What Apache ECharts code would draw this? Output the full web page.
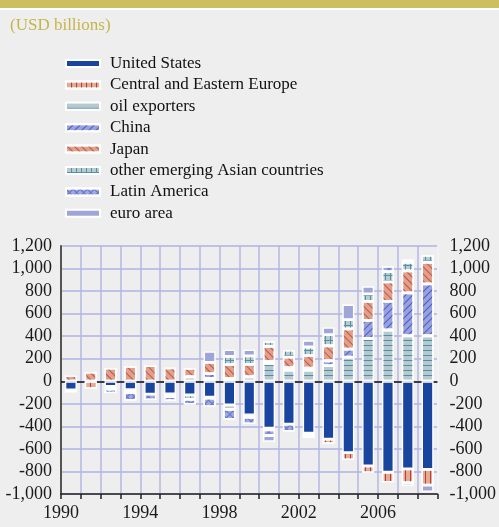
<!DOCTYPE html>
<html>
<head>
<meta charset="utf-8">
<script src="https://cdn.jsdelivr.net/npm/echarts@6/dist/echarts.min.js"></script>
<style>
  html, body { margin: 0; padding: 0; background: #eeeeee; }
  #chart { width: 499px; height: 527px; }
</style>
</head>
<body>
<div id="chart"></div>
<script>
// years on the category axis
const years = ['1990', '1991', '1992', '1993', '1994', '1995', '1996', '1997', '1998', '1999',
               '2000', '2001', '2002', '2003', '2004', '2005', '2006', '2007', '2008']

// current account balances, USD billions ('-' = nothing drawn)
const unitedStates = [-76, '-', -46, -75, -114, -111, -120, -140, -210, -298, -416, -380, -461, -514, -633, -751, -807, -778, -782]
const centralEasternEurope = [-22, -65, '-', '-', '-', '-', '-', -10, '-', -22, -15, '-', -15, -40, -65, -60, -89, -122, -140]
const oilExporters = ['-', '-', -24, -25, '-', '-', 40, 25, -40, 40, 160, 100, 100, 138, 215, 380, 455, 404, 404]
const china = ['-', '-', '-', '-', '-', '-', '-', 42, 25, '-', 16, 20, 17, 44, 71, 160, 254, 380, 460]
const japan = [50, 82, 117, 132, 140, 120, 75, 100, 122, 110, 133, 95, 110, 133, 178, 169, 173, 195, 192]
const otherAsia = ['-', '-', '-', '-', '-', -24, -40, '-', 73, 75, 45, 62, 77, 98, 83, 66, 91, 77, 62]
const latinAmerica = ['-', '-', -35, -70, -51, -38, -45, -75, -89, -58, -50, -65, -25, '-', '-', '-', 47, 24, '-']
const euroArea = ['-', '-', '-', '-', '-', '-', '-', 98, 60, 55, -55, '-', 59, 65, 133, 68, '-', -29, -60]

const yTicks = { min: -1000, max: 1200, step: 200 }

const serif = '"Liberation Serif", "Times New Roman", serif'

// hatch patterns drawn over the fill colours
const lines = (color, rotation) => ({
    symbol: 'rect', symbolSize: 1, dashArrayX: [1, 3.2], dashArrayY: [4, 0], color, rotation: rotation || 0,
})
const hLines = (color) => ({
    symbol: 'rect', symbolSize: 1, dashArrayX: [4, 0], dashArrayY: [1, 3.5], color,
})
const grid = (color, rotation) => ({
    symbol: 'rect', symbolSize: 1,
    dashArrayX: [[5, 0], [1, 4]], dashArrayY: [1, 0, 4, 0], color, rotation: rotation || 0,
})

const seriesDefs = [
    { name: 'United States', data: unitedStates, color: '#1a459f' },
    { name: 'Central and Eastern Europe', data: centralEasternEurope, color: '#e2ac96', decal: lines('rgba(190,40,30,0.85)') },
    { name: 'oil exporters', data: oilExporters, color: '#b6c9d1', decal: hLines('rgba(70,135,155,0.9)') },
    { name: 'China', data: china, color: '#9ba2db', decal: lines('rgba(40,70,200,0.75)', Math.PI / 4) },
    { name: 'Japan', data: japan, color: '#dea18c', decal: lines('rgba(190,45,40,0.7)', -Math.PI / 4) },
    { name: 'other emerging Asian countries', data: otherAsia, color: '#b8cbd3', decal: grid('rgba(70,140,160,0.9)') },
    { name: 'Latin America', data: latinAmerica, color: '#a2a8dd', decal: grid('rgba(50,80,200,0.6)', Math.PI / 4) },
    { name: 'euro area', data: euroArea, color: '#a0a5d8' },
]

const chart = echarts.init(document.getElementById('chart'))

const series = seriesDefs.map((s, i) => ({
    name: s.name,
    type: 'bar',
    stack: 'total',
    barWidth: 12,
    data: s.data,
    itemStyle: {
        color: s.color,
        borderColor: '#ffffff',
        borderWidth: 1.4,
        decal: s.decal || null,
    },
    emphasis: { disabled: true },
    markLine: i === 0 ? {
        silent: true,
        z: 1,
        symbol: 'none',
        label: { show: false },
        lineStyle: { color: '#111', width: 1.6, type: 'solid' },
        data: [{ yAxis: 0 }],
    } : undefined,
}))

const yAxisBase = {
    type: 'value',
    min: yTicks.min,
    max: yTicks.max,
    interval: yTicks.step,
    axisTick: { show: false },
    axisLabel: {
        fontFamily: serif,
        fontSize: 18,
        color: '#1a1a1a',
        formatter: (v) => v.toLocaleString('en-US'),
    },
}

chart.setOption({
    backgroundColor: '#eeeeee',
    animation: false,
    graphic: [
        { type: 'rect', left: 0, top: 0, shape: { width: 499, height: 8 }, style: { fill: '#cdbf60' } },
        { type: 'rect', left: 0, top: 8, shape: { width: 499, height: 2 }, style: { fill: '#ffffff' } },
    ],
    title: {
        text: '(USD billions)',
        left: 5,
        top: 12,
        textStyle: { fontFamily: serif, fontSize: 17, fontWeight: 'normal', color: '#c6b54a' },
    },
    legend: {
        orient: 'vertical',
        left: 60,
        top: 48,
        icon: 'rect',
        itemWidth: 34,
        itemHeight: 7,
        itemGap: 0.4,
        selectedMode: false,
        textStyle: {
            fontFamily: serif,
            fontSize: 17,
            lineHeight: 21,
            color: '#111',
            padding: [0, 0, 0, 5],
        },
        data: seriesDefs.map((s) => s.name),
    },
    grid: { left: 61, right: 57, top: 246, bottom: 33, containLabel: false },
    xAxis: {
        type: 'category',
        data: years,
        axisLine: { onZero: false, lineStyle: { color: '#222', width: 1.5 } },
        axisTick: { show: true, length: 5, interval: 0, lineStyle: { color: '#222', width: 1.5 } },
        axisLabel: {
            interval: 3,
            fontFamily: serif,
            fontSize: 18,
            color: '#1a1a1a',
            margin: 10,
            padding: [0, 20, 0, 0],
        },
        splitLine: { show: true, interval: 0, lineStyle: { color: '#b3b7e2', width: 1.5 } },
    },
    yAxis: [
        {
            ...yAxisBase,
            position: 'left',
            axisLine: { show: true, lineStyle: { color: '#555', width: 2 } },
            axisLabel: { ...yAxisBase.axisLabel, margin: 9 },
            splitLine: { show: true, lineStyle: { color: '#bfc2e6', width: 2 } },
        },
        {
            ...yAxisBase,
            position: 'right',
            axisLine: { show: true, lineStyle: { color: '#ffffff', width: 1.5 } },
            axisLabel: { ...yAxisBase.axisLabel, margin: 12 },
            splitLine: { show: false },
        },
    ],
    series,
})
</script>
</body>
</html>
